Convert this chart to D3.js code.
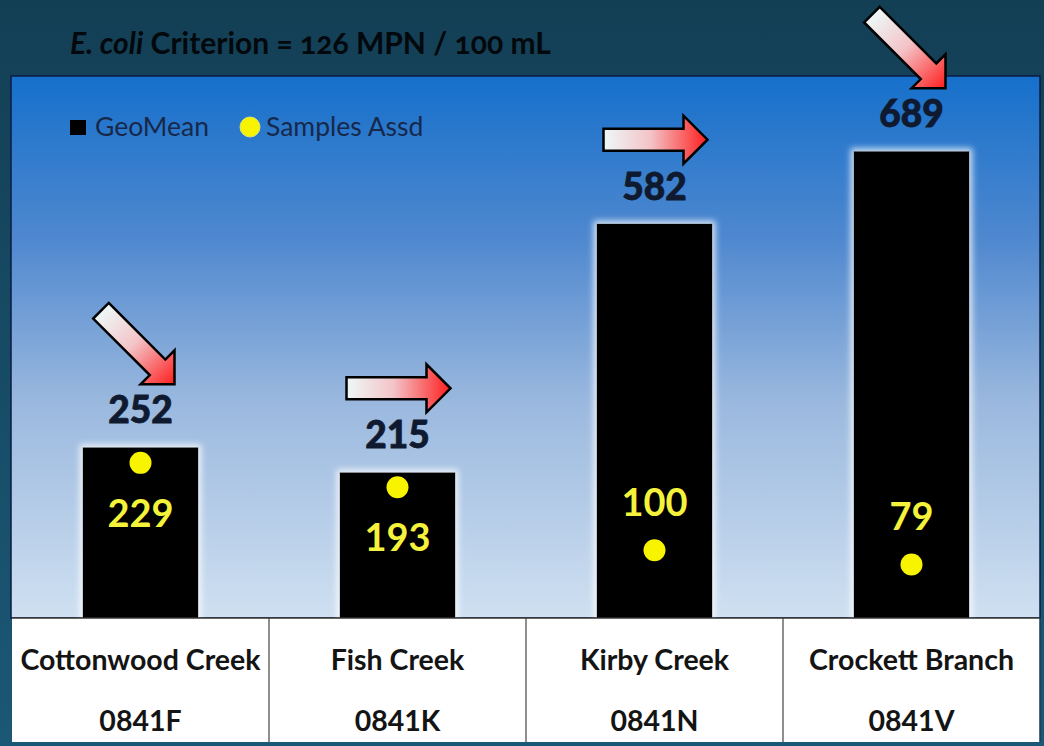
<!DOCTYPE html>
<html>
<head>
<meta charset="utf-8">
<script src="https://cdn.jsdelivr.net/npm/d3@7"></script>
<style>
  html, body { margin: 0; padding: 0; background: #15465d; }
  svg { display: block; }
</style>
</head>
<body>
<svg id="chart"></svg>
<script>
// data
const sites = ["Cottonwood Creek", "Fish Creek", "Kirby Creek", "Crockett Branch"];
const segments = ["0841F", "0841K", "0841N", "0841V"];
const geoMean = [252, 215, 582, 689];
const samplesAssd = [229, 193, 100, 79];
const trend = ["down", "flat", "flat", "down"];   // arrow direction above each bar
const yMax = 800;

const width = 1044, height = 746;
const plot = {left: 12, right: 1040, top: 76, bottom: 618};
const tableBottom = 742;
const font = "Lato, 'Open Sans', sans-serif";

const svg = d3.select("#chart")
    .attr("width", width)
    .attr("height", height);

const defs = svg.append("defs");

// page background
const bg = defs.append("linearGradient").attr("id", "pageBg")
    .attr("x1", 0).attr("y1", 0).attr("x2", 0).attr("y2", 1);
bg.append("stop").attr("offset", 0).attr("stop-color", "#133f55");
bg.append("stop").attr("offset", 1).attr("stop-color", "#1b5876");

// plot background
const pg = defs.append("linearGradient").attr("id", "plotBg")
    .attr("x1", 0).attr("y1", 0).attr("x2", 0).attr("y2", 1);
pg.append("stop").attr("offset", 0).attr("stop-color", "#1670cb");
pg.append("stop").attr("offset", 0.3).attr("stop-color", "#4f88cf");
pg.append("stop").attr("offset", 0.6).attr("stop-color", "#9ab8de");
pg.append("stop").attr("offset", 1).attr("stop-color", "#cfe0f1");

// arrow fill
const ag = defs.append("linearGradient").attr("id", "arrowFill")
    .attr("x1", 0).attr("y1", 0).attr("x2", 1).attr("y2", 0);
ag.append("stop").attr("offset", 0).attr("stop-color", "#eef8f8");
ag.append("stop").attr("offset", 0.45).attr("stop-color", "#f3c4c8");
ag.append("stop").attr("offset", 1).attr("stop-color", "#ff1e1e");

// soft white halo round bars
const glow = defs.append("filter").attr("id", "glow")
    .attr("x", "-20%").attr("y", "-20%").attr("width", "140%").attr("height", "140%");
glow.append("feMorphology").attr("in", "SourceAlpha").attr("operator", "dilate").attr("radius", 3).attr("result", "d");
glow.append("feGaussianBlur").attr("in", "d").attr("stdDeviation", 3).attr("result", "b");
glow.append("feFlood").attr("flood-color", "#ffffff").attr("flood-opacity", 0.75);
glow.append("feComposite").attr("in2", "b").attr("operator", "in").attr("result", "g");
const gm = glow.append("feMerge");
gm.append("feMergeNode").attr("in", "g");
gm.append("feMergeNode").attr("in", "SourceGraphic");

svg.append("rect")
    .attr("width", width).attr("height", height)
    .attr("fill", "url(#pageBg)");

// title
const title = svg.append("text")
    .attr("x", 70).attr("y", 54)
    .attr("font-family", font)
    .attr("font-weight", "bold")
    .attr("font-size", 30)
    .attr("fill", "#03080c")
    .style("font-variant-numeric", "oldstyle-nums");
title.append("tspan").attr("font-style", "italic").text("E. coli");
title.append("tspan").text(" Criterion = 126 MPN / 100 mL");

// plot area
svg.append("rect")
    .attr("x", plot.left - 1).attr("y", plot.top)
    .attr("width", plot.right - plot.left + 1).attr("height", plot.bottom - plot.top)
    .attr("fill", "url(#plotBg)")
    .attr("stroke", "#0b1d45").attr("stroke-width", 1.5);

const x = d3.scaleBand()
    .domain(sites)
    .range([plot.left, plot.right])
    .paddingInner(0.55)
    .paddingOuter(0.275);

const col = d3.scaleBand()
    .domain(sites)
    .range([plot.left, plot.right])
    .padding(0);

const y = d3.scaleLinear()
    .domain([0, yMax])
    .range([plot.bottom, plot.top]);

const rows = sites.map((s, i) => ({
    site: s, seg: segments[i], geo: geoMean[i], smp: samplesAssd[i], trend: trend[i]
}));

const cx = d => x(d.site) + x.bandwidth() / 2;

// legend
const legend = svg.append("g")
    .attr("font-family", font)
    .attr("font-size", 26.5)
    .attr("fill", "#17284a");
legend.append("rect").attr("x", 70).attr("y", 120).attr("width", 16).attr("height", 15).attr("fill", "#000");
legend.append("text").attr("x", 95).attr("y", 136).text("GeoMean");
legend.append("circle").attr("cx", 250).attr("cy", 127).attr("r", 10)
    .attr("fill", "#f8f400").attr("stroke", "#d9e27a").attr("stroke-width", 1);
legend.append("text").attr("x", 266).attr("y", 136).text("Samples Assd");

// bars
svg.append("g").selectAll("rect")
    .data(rows)
    .join("rect")
    .attr("x", d => x(d.site))
    .attr("y", d => y(d.geo))
    .attr("width", x.bandwidth())
    .attr("height", d => y(0) - y(d.geo))
    .attr("fill", "#000")
    .attr("filter", "url(#glow)");

// geomean labels
svg.append("g").selectAll("text")
    .data(rows)
    .join("text")
    .attr("x", cx)
    .attr("y", d => y(d.geo) - 24)
    .attr("text-anchor", "middle")
    .attr("font-family", font)
    .attr("font-weight", 900)
    .attr("font-size", 37)
    .attr("fill", "#0f1a30")
    .attr("stroke", "#0f1a30")
    .attr("stroke-width", 0.8)
    .text(d => d.geo);

// samples dots
svg.append("g").selectAll("circle")
    .data(rows)
    .join("circle")
    .attr("cx", cx)
    .attr("cy", d => y(d.smp))
    .attr("r", 11)
    .attr("fill", "#f8f400");

// samples labels: below the dot when it sits near the bar top, else above
svg.append("g").selectAll("text")
    .data(rows)
    .join("text")
    .attr("x", cx)
    .attr("y", d => d.smp / d.geo > 0.5 ? y(d.smp) + 64 : y(d.smp) - 34)
    .attr("text-anchor", "middle")
    .attr("font-family", font)
    .attr("font-weight", "bold")
    .attr("font-size", 38)
    .attr("fill", "#f4f23a")
    .text(d => d.smp);

// trend arrows, tip at origin pointing along +x
const arrowPts = [[-104, -11], [-24, -11], [-24, -24], [0, 0], [-24, 24], [-24, 11], [-104, 11]];
svg.append("g").selectAll("path")
    .data(rows)
    .join("path")
    .attr("d", d3.line()(arrowPts) + "Z")
    .attr("transform", d => {
        const ly = y(d.geo) - 24 - 12;
        return d.trend === "down"
            ? `translate(${cx(d) + 34},${ly - 27}) rotate(45)`
            : `translate(${cx(d) + 53},${ly - 48})`;
    })
    .attr("fill", "url(#arrowFill)")
    .attr("stroke", "#000")
    .attr("stroke-width", 2.5)
    .attr("stroke-linejoin", "miter");

// table under the plot
const table = svg.append("g");
table.append("rect")
    .attr("x", plot.left).attr("y", plot.bottom)
    .attr("width", plot.right - plot.left).attr("height", tableBottom - plot.bottom)
    .attr("fill", "#ffffff");
table.append("line")
    .attr("x1", plot.left).attr("x2", plot.right)
    .attr("y1", plot.bottom).attr("y2", plot.bottom)
    .attr("stroke", "#333").attr("stroke-width", 1.5);
table.selectAll("line.div")
    .data(sites.slice(1))
    .join("line")
    .attr("class", "div")
    .attr("x1", d => col(d)).attr("x2", d => col(d))
    .attr("y1", plot.bottom).attr("y2", tableBottom)
    .attr("stroke", "#444").attr("stroke-width", 1.2);
table.append("line")
    .attr("x1", plot.right).attr("x2", plot.right)
    .attr("y1", plot.bottom).attr("y2", tableBottom)
    .attr("stroke", "#1b3a55").attr("stroke-width", 1.5);

const cell = table.selectAll("g.cell")
    .data(rows)
    .join("g")
    .attr("class", "cell")
    .attr("font-family", font)
    .attr("font-weight", "bold")
    .attr("font-size", 28.5)
    .attr("fill", "#141414")
    .attr("text-anchor", "middle");
cell.append("text")
    .attr("x", d => col(d.site) + col.bandwidth() / 2)
    .attr("y", 670)
    .text(d => d.site);
cell.append("text")
    .attr("x", d => col(d.site) + col.bandwidth() / 2)
    .attr("y", 731)
    .text(d => d.seg);
</script>
</body>
</html>
